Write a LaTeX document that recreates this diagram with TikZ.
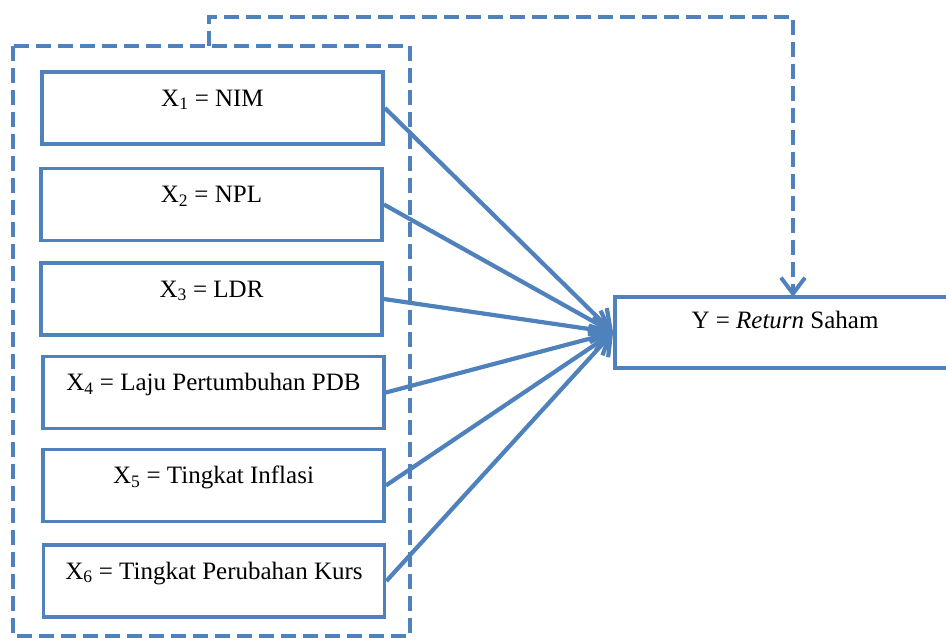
\documentclass[tikz,border=0pt]{standalone}
\usepackage{fontspec}
\setmainfont{Liberation Serif}
\usetikzlibrary{arrows.meta}
\definecolor{obl}{HTML}{4F81BD}
\tikzset{
  xbox/.style={draw=obl, line width=3.8pt, inner sep=0pt, minimum width=341pt,
    minimum height=72pt, text height=34pt, text depth=38pt, fill=white,
    font=\fontsize{25}{30}\selectfont},
  ybox/.style={draw=obl, line width=3.8pt, inner sep=0pt, minimum width=340pt,
    minimum height=71pt, text height=31pt, text depth=40pt, fill=white,
    font=\fontsize{25}{30}\selectfont},
  dashline/.style={draw=obl, line width=4pt, dash pattern=on 15pt off 7pt},
  conn/.style={draw=obl, line width=4.2pt, -{Straight Barb[length=18pt,width=26pt,line width=4.2pt]}},
  dconn/.style={dashline, -{Straight Barb[length=16pt,width=24pt,line width=4pt]}}
}
\begin{document}
\begin{tikzpicture}[x=1pt,y=-1pt]
\clip (0,0) rectangle (946,640);
\fill[white] (0,0) rectangle (946,640);
% dashed group box
\draw[dashline] (13,46) rectangle (410,636);
\coordinate (gtop) at (209,46);
\coordinate (c1) at (209,17);
\coordinate (c2) at (793,17);
% boxes
\node[xbox] (x1) at (212.5,108) {X\textsubscript{1} = NIM};
\node[xbox] (x2) at (211.5,204.5) {X\textsubscript{2} = NPL};
\node[xbox] (x3) at (211.5,299) {X\textsubscript{3} = LDR};
\node[xbox] (x4) at (213.5,392.5) {X\textsubscript{4} = Laju Pertumbuhan PDB};
\node[xbox] (x5) at (213.5,485.5) {X\textsubscript{5} = Tingkat Inflasi};
\node[xbox] (x6) at (214,581) {X\textsubscript{6} = Tingkat Perubahan Kurs};
\node[ybox] (y) at (785,332.5) {Y = \textit{Return} Saham};
\coordinate (ytop) at (793,297);
% connectors
\foreach \n in {x1,x2,x3,x4,x5,x6}
  \draw[conn] (\n.east) -- (y.west);
\draw[dconn] (gtop) -- (c1) -- (c2) -- (ytop);
\end{tikzpicture}
\end{document}
